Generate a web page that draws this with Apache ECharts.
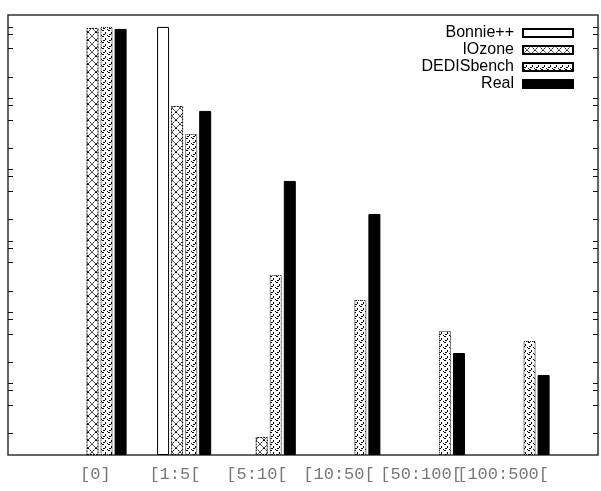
<!DOCTYPE html>
<html>
<head>
<meta charset="utf-8">
<title>histogram</title>
<script src="https://cdn.jsdelivr.net/npm/echarts@6/dist/echarts.min.js"></script>
<style>
  html, body { margin: 0; padding: 0; background: #fff; }
  #myChart { width: 601px; height: 491px; }
</style>
</head>
<body>
<div id="myChart"></div>
<script>
// size ranges on the x axis
var categories = ['[0]', '[1:5[', '[5:10[', '[10:50[', '[50:100[', '[100:500[']
// values read off the log scale, null = no bar
var bonnie = [null, 1000000, null, null, null, null]
var iozone = [968000, 78100, 1.79, null, null, null]
var dedis = [1000000, 31600, 334, 149, 54.8, 39.6]
var real = [938000, 66500, 6940, 2390, 26.9, 13.2]
// y ticks (no labels, only marks)
var majorTicks = [10, 100, 1000, 10000, 100000, 1000000]
var minorSteps = [2, 5, 8]
var yMin = 1
var yMax = 1470000

var allTicks = majorTicks.slice()
for (var d = 1; d <= 1000000; d *= 10) {
  minorSteps.forEach(function (m) {
    if (d * m < yMax) allTicks.push(d * m)
  })
}

function toPairs (arr) {
  return arr.map(function (v, i) { return [i, v == null ? '-' : v] })
}

// hatch patterns like the gnuplot fills
function makePattern (kind) {
  var c = document.createElement('canvas')
  var ctx = c.getContext('2d')
  if (kind === 'cross') {
    c.width = 8; c.height = 8
    ctx.fillStyle = '#fff'
    ctx.fillRect(0, 0, 8, 8)
    ctx.strokeStyle = '#000'
    ctx.lineWidth = 1
    ctx.setLineDash([2, 1])
    ctx.beginPath()
    ctx.moveTo(0, 0); ctx.lineTo(8, 8)
    ctx.moveTo(8, 0); ctx.lineTo(0, 8)
    ctx.stroke()
  } else {
    c.width = 6; c.height = 6
    ctx.fillStyle = '#fff'
    ctx.fillRect(0, 0, 6, 6)
    ctx.fillStyle = '#000'
    ctx.fillRect(0, 0, 2, 1)
    ctx.fillRect(3, 2, 1, 2)
    ctx.fillRect(1, 4, 2, 1)
    ctx.fillRect(5, 5, 1, 1)
  }
  return { image: c, repeat: 'repeat' }
}

// label boxes sized like gnuplot's estimated text width
var rich = {}
categories.forEach(function (c) {
  rich['w' + c.length] = {
    width: c.length * 15.3 - 7,
    align: 'left',
    fontFamily: 'Liberation Mono',
    fontSize: 17,
    color: '#777'
  }
})

// two label axes (even / odd) so the wide label boxes never get hidden
function xAxisDef (labelValues) {
  return {
    type: 'value',
    position: 'bottom',
    offset: 0,
    min: -1.082,
    max: 5.892,
    axisLine: { show: false, onZero: false },
    axisTick: { show: false },
    splitLine: { show: false },
    axisLabel: {
      customValues: labelValues,
      margin: 11,
      hideOverlap: false,
      formatter: function (v) {
        var c = categories[Math.round(v)]
        return '{w' + c.length + '|' + c + '}'
      },
      rich: rich
    }
  }
}

function yAxisDef (pos) {
  return {
    type: 'log',
    logBase: 10,
    position: pos,
    offset: 0,
    min: yMin,
    max: yMax,
    axisLine: { show: false, onZero: false },
    axisLabel: { show: false },
    splitLine: { show: false },
    axisTick: {
      inside: true,
      length: 5,
      customValues: allTicks,
      lineStyle: { color: '#111', width: 1 }
    }
  }
}

var myChart = echarts.init(document.getElementById('myChart'))
myChart.setOption({
  animation: false,
  backgroundColor: '#fff',
  grid: {
    left: 8,
    right: 3,
    top: 15,
    bottom: 36,
    show: true,
    borderColor: '#333',
    borderWidth: 1.5,
    backgroundColor: 'transparent',
    outerBoundsMode: 'none'
  },
  legend: {
    orient: 'vertical',
    right: 22,
    top: 20,
    align: 'right',
    icon: 'rect',
    itemWidth: 50,
    itemHeight: 8,
    itemGap: 1,
    textStyle: {
      fontFamily: 'Liberation Sans',
      fontSize: 16,
      lineHeight: 16,
      color: '#000',
      padding: [0, 4, 0, 0]
    },
    data: ['Bonnie++', 'IOzone', 'DEDISbench', 'Real']
  },
  xAxis: [
    xAxisDef([0, 2, 4]),
    xAxisDef([1, 3, 5])
  ],
  yAxis: [
    yAxisDef('left'),
    yAxisDef('right')
  ],
  series: [
    {
      name: 'Bonnie++',
      type: 'bar',
      data: toPairs(bonnie),
      barWidth: 12,
      barGap: '17%',
      itemStyle: { color: '#fff', borderColor: '#000', borderWidth: 1 }
    },
    {
      name: 'IOzone',
      type: 'bar',
      data: toPairs(iozone),
      barWidth: 12,
      barGap: '17%',
      itemStyle: { color: makePattern('cross'), borderColor: '#000', borderWidth: 1, borderType: [2, 1] }
    },
    {
      name: 'DEDISbench',
      type: 'bar',
      data: toPairs(dedis),
      barWidth: 12,
      barGap: '17%',
      itemStyle: { color: makePattern('dots'), borderColor: '#000', borderWidth: 1, borderType: [1, 1] }
    },
    {
      name: 'Real',
      type: 'bar',
      data: toPairs(real),
      barWidth: 12,
      barGap: '17%',
      itemStyle: { color: '#000', borderColor: '#000', borderWidth: 1 }
    }
  ]
})
</script>
</body>
</html>
